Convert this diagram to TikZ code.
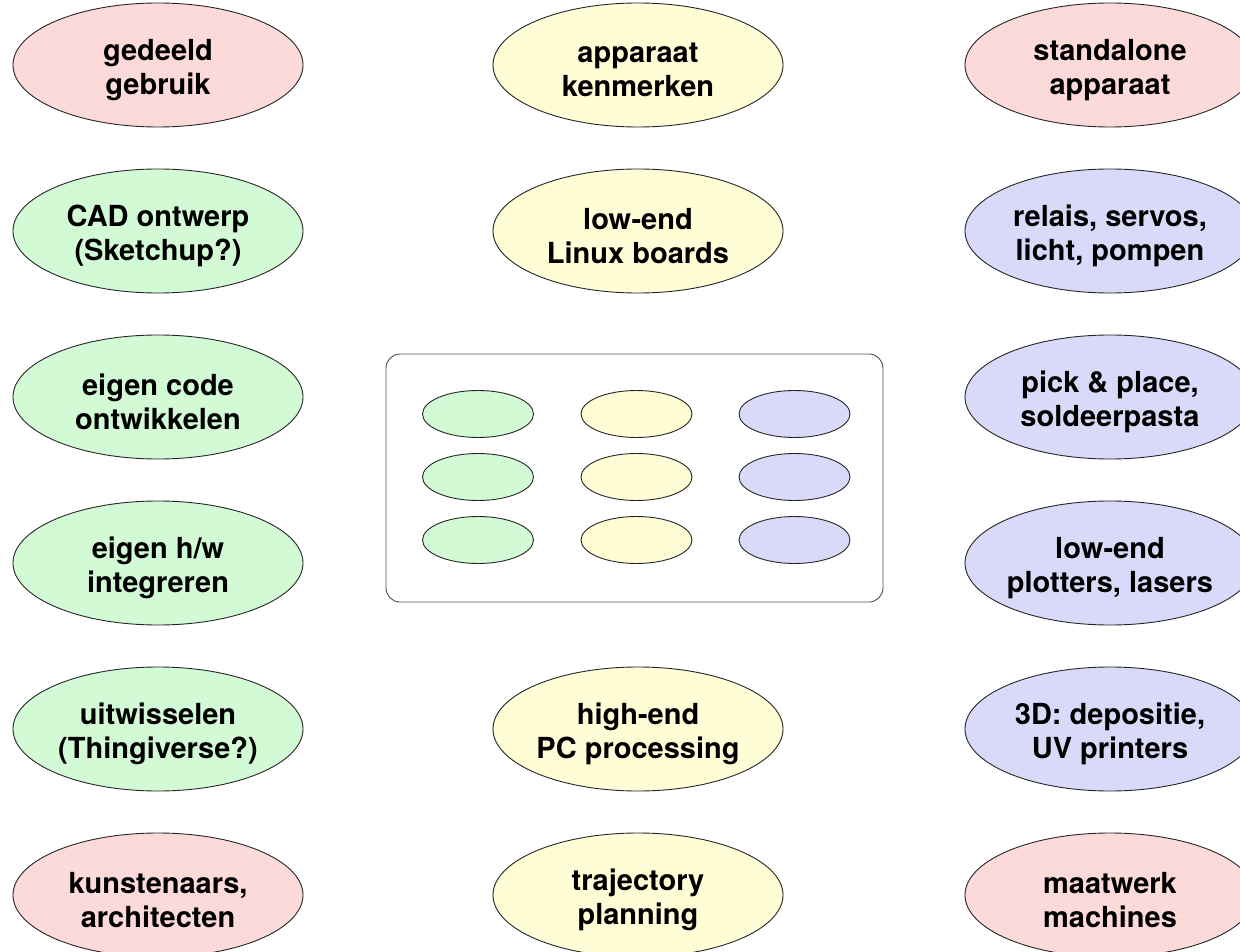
\documentclass[tikz,border=0pt]{standalone}
\usepackage{fontspec}
\setmainfont{TeX Gyre Heros}
\usetikzlibrary{shapes.geometric}
\definecolor{cpink}{RGB}{253,218,218}
\definecolor{cgreen}{RGB}{210,250,213}
\definecolor{cyellow}{RGB}{255,253,214}
\definecolor{cblue}{RGB}{217,218,250}
\tikzset{
  big/.style={ellipse, draw=black!85, line width=0.9pt, minimum width=290pt, minimum height=124pt, inner sep=0pt},
  txt/.style={inner sep=0pt, align=center, font=\fontsize{29}{33.5}\selectfont\bfseries},
  small/.style={ellipse, draw=black!85, line width=0.9pt, minimum width=111pt, minimum height=47pt, inner sep=0pt},
  frame/.style={draw=black!70, line width=0.9pt, rounded corners=14pt}
}
\newcommand{\bubble}[4]{%
  \node[big, fill=#2] (#1) at (#3) {};
  \node[txt] (#1t) at ([yshift=-5pt]#1.center) {#4};}
\begin{document}
\begin{tikzpicture}[x=1pt,y=-1pt]
\useasboundingbox (0,0) rectangle (1240,952);
\begin{scope}
\clip (0,0) rectangle (1240,952);
% left column
\bubble{l1}{cpink}{158,65}{gedeeld\\gebruik}
\bubble{l2}{cgreen}{158,231}{CAD ontwerp\\(Sketchup?)}
\bubble{l3}{cgreen}{158,397}{eigen code\\ontwikkelen}
\bubble{l4}{cgreen}{158,563}{eigen h/w\\integreren}
\bubble{l5}{cgreen}{158,729}{uitwisselen\\(Thingiverse?)}
\bubble{l6}{cpink}{158,895}{kunstenaars,\\architecten}
% middle column
\bubble{m1}{cyellow}{638,65}{apparaat\\kenmerken}
\bubble{m2}{cyellow}{638,231}{low-end\\Linux boards}
\bubble{m5}{cyellow}{638,729}{high-end\\PC processing}
\bubble{m6}{cyellow}{638,895}{trajectory\\planning}
% right column
\bubble{r1}{cpink}{1110,65}{standalone\\apparaat}
\bubble{r2}{cblue}{1110,231}{relais, servos,\\licht, pompen}
\bubble{r3}{cblue}{1110,397}{pick \& place,\\soldeerpasta}
\bubble{r4}{cblue}{1110,563}{low-end\\plotters, lasers}
\bubble{r5}{cblue}{1110,729}{3D: depositie,\\UV printers}
\bubble{r6}{cpink}{1110,895}{maatwerk\\machines}
\end{scope}
% central frame
\draw[frame] (386,354) rectangle (883,602);
\node[small, fill=cgreen]  (s11) at (478,414) {};
\node[small, fill=cgreen]  (s21) at (478,477) {};
\node[small, fill=cgreen]  (s31) at (478,540) {};
\node[small, fill=cyellow] (s12) at (636.5,414) {};
\node[small, fill=cyellow] (s22) at (636.5,477) {};
\node[small, fill=cyellow] (s32) at (636.5,540) {};
\node[small, fill=cblue]   (s13) at (794.5,414) {};
\node[small, fill=cblue]   (s23) at (794.5,477) {};
\node[small, fill=cblue]   (s33) at (794.5,540) {};
\end{tikzpicture}
\end{document}
